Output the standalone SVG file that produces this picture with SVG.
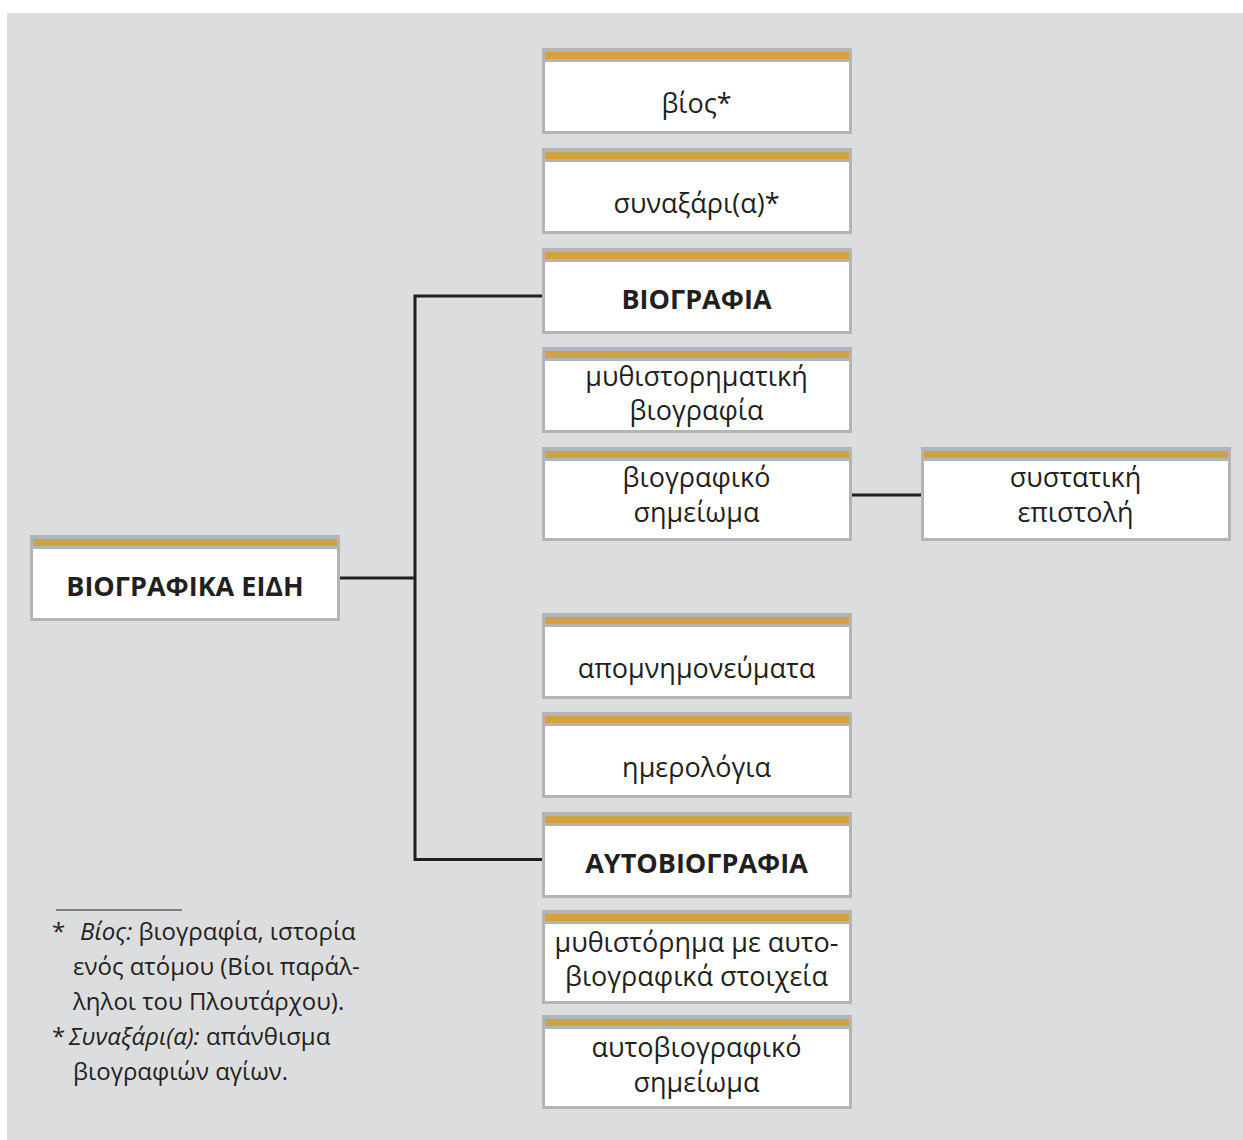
<svg xmlns="http://www.w3.org/2000/svg" width="1243" height="1140" viewBox="0 0 1243 1140">
<style>
.frame{fill:#b3b4b6}
.bar{fill:#d2a141}
.body{fill:#ffffff}
.t{font-family:"Open Sans","Noto Sans","DejaVu Sans",sans-serif;font-size:27px;fill:#231f20;text-anchor:middle}
.b{font-family:"Open Sans","Noto Sans","DejaVu Sans",sans-serif;font-size:27px;font-weight:bold;fill:#231f20;text-anchor:middle}
.fn{font-family:"Open Sans","Noto Sans","DejaVu Sans",sans-serif;font-size:24px;fill:#231f20}
.link{fill:none;stroke:#231f20;stroke-width:3}
</style>
<defs>
<g id="box86">
<rect class="frame" x="0" y="0" width="310" height="86"/>
<rect class="bar" x="3" y="4" width="304" height="7"/>
<rect class="body" x="3" y="14" width="304" height="69"/>
</g>
<g id="box94">
<rect class="frame" x="0" y="0" width="310" height="94"/>
<rect class="bar" x="3" y="4" width="304" height="7"/>
<rect class="body" x="3" y="14" width="304" height="77"/>
</g>
</defs>
<rect x="7" y="13" width="1236" height="1127" fill="#dcdddf"/>

<g id="connectors">
<polyline class="link" points="340,578 415,578"/>
<polyline class="link" points="542,296 415,296 415,859.5 542,859.5"/>
<polyline class="link" points="851,495 921,495"/>
</g>

<g id="node-root">
<use href="#box86" x="30" y="535"/>
<text class="b" x="185" y="596">ΒΙΟΓΡΑΦΙΚΑ ΕΙΔΗ</text>
</g>

<g id="node-bios">
<use href="#box86" x="542" y="48"/>
<text class="t" x="696.5" y="113">βίος*</text>
</g>
<g id="node-synaxari">
<use href="#box86" x="542" y="148"/>
<text class="t" x="696.5" y="213">συναξάρι(α)*</text>
</g>
<g id="node-biografia">
<use href="#box86" x="542" y="248"/>
<text class="b" x="696.5" y="309">ΒΙΟΓΡΑΦΙΑ</text>
</g>
<g id="node-mythistorimatiki">
<use href="#box86" x="542" y="347"/>
<text class="t" x="696.5" y="386">μυθιστορηματική</text>
<text class="t" x="696.5" y="420">βιογραφία</text>
</g>
<g id="node-biografiko">
<use href="#box94" x="542" y="447"/>
<text class="t" x="696.5" y="487">βιογραφικό</text>
<text class="t" x="696.5" y="522">σημείωμα</text>
</g>
<g id="node-systatiki">
<use href="#box94" x="921" y="447"/>
<text class="t" x="1075.5" y="487">συστατική</text>
<text class="t" x="1075.5" y="522">επιστολή</text>
</g>
<g id="node-apomnimoneymata">
<use href="#box86" x="542" y="613"/>
<text class="t" x="696.5" y="678">απομνημονεύματα</text>
</g>
<g id="node-imerologia">
<use href="#box86" x="542" y="712"/>
<text class="t" x="696.5" y="777">ημερολόγια</text>
</g>
<g id="node-aftobiografia">
<use href="#box86" x="542" y="812"/>
<text class="b" x="696.5" y="873">ΑΥΤΟΒΙΟΓΡΑΦΙΑ</text>
</g>
<g id="node-mythistorima">
<use href="#box94" x="542" y="910"/>
<text class="t" x="696.5" y="952">μυθιστόρημα με αυτο-</text>
<text class="t" x="696.5" y="986">βιογραφικά στοιχεία</text>
</g>
<g id="node-aftobiografiko">
<use href="#box94" x="542" y="1015"/>
<text class="t" x="696.5" y="1057">αυτοβιογραφικό</text>
<text class="t" x="696.5" y="1092">σημείωμα</text>
</g>

<g id="footnotes">
<line x1="56" y1="910" x2="182" y2="910" stroke="#231f20" stroke-width="1"/>
<text class="fn" x="52" y="940">*<tspan x="80" font-style="italic">Βίος:</tspan> βιογραφία, ιστορία</text>
<text class="fn" x="73" y="975">ενός ατόμου (Βίοι παράλ-</text>
<text class="fn" x="73" y="1010">ληλοι του Πλουτάρχου).</text>
<text class="fn" x="52" y="1045">*<tspan x="69" font-style="italic">Συναξάρι(α):</tspan> απάνθισμα</text>
<text class="fn" x="73" y="1080">βιογραφιών αγίων.</text>
</g>
</svg>
